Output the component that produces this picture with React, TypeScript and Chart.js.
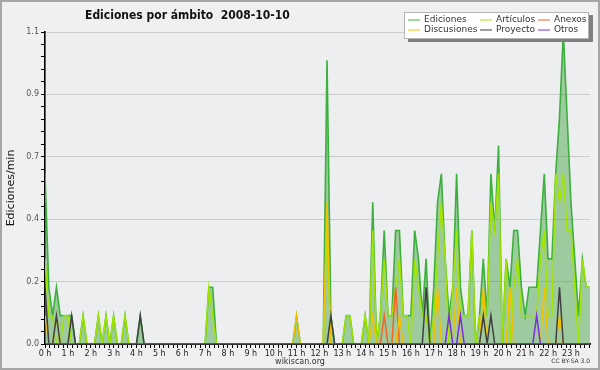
import { useEffect, useRef } from "react";
import { Chart, registerables } from "chart.js";

Chart.register(...registerables);

const TITLE = "Ediciones por ámbito  2008-10-10";
const Y_TITLE = "Ediciones/min";
const FOOTER = "wikiscan.org";
const LICENSE = "CC BY-SA 3.0";

const HOUR_LABELS = [
  "0 h", "1 h", "2 h", "3 h", "4 h", "5 h", "6 h", "7 h", "8 h", "9 h", "10 h", "11 h",
  "12 h", "13 h", "14 h", "15 h", "16 h", "17 h", "18 h", "19 h", "20 h", "21 h", "22 h", "23 h",
];
const Y_TICK_LABELS = ["0.0", "0.2", "0.4", "0.7", "0.9", "1.1"];
const Y_MAX = 1.1;

const SERIES_NAMES = ["Ediciones", "Artículos", "Anexos", "Discusiones", "Proyecto", "Otros"];
const SERIES_COLORS = ["#3cb03c", "#a2e400", "#f26522", "#f2c200", "#404040", "#7a2ee0"];

// 10-minute samples, 6 per hour
const ediciones = [
  0.6, 0.2, 0.1, 0.2, 0.1, 0.1,
  0.1, 0.1, 0, 0, 0.1, 0,
  0, 0, 0.1, 0, 0.1, 0,
  0.1, 0, 0, 0.1, 0, 0,
  0, 0.1, 0, 0, 0, 0,
  0, 0, 0, 0, 0, 0,
  0, 0, 0, 0, 0, 0,
  0, 0.2, 0.2, 0, 0, 0,
  0, 0, 0, 0, 0, 0,
  0, 0, 0, 0, 0, 0,
  0, 0, 0, 0, 0, 0,
  0.1, 0, 0, 0, 0, 0,
  0, 0, 1.0, 0.1, 0, 0,
  0, 0.1, 0.1, 0, 0, 0,
  0.1, 0, 0.5, 0, 0.1, 0.4,
  0.1, 0.1, 0.4, 0.4, 0.1, 0.1,
  0.1, 0.4, 0.3, 0.1, 0.3, 0,
  0.2, 0.5, 0.6, 0.3, 0.1, 0.2,
  0.6, 0.2, 0.1, 0.1, 0.4, 0,
  0.1, 0.3, 0.1, 0.6, 0.4, 0.7,
  0, 0.3, 0.2, 0.4, 0.4, 0.2,
  0.1, 0.2, 0.2, 0.2, 0.4, 0.6,
  0.3, 0.3, 0.6, 0.8, 1.1, 0.8,
  0.5, 0.3, 0.1, 0.3, 0.2, 0.2,
];
const articulos = [
  0.3, 0.1, 0.1, 0, 0, 0.1,
  0.1, 0, 0, 0, 0.1, 0,
  0, 0, 0.1, 0, 0.1, 0,
  0.1, 0, 0, 0.1, 0, 0,
  0, 0, 0, 0, 0, 0,
  0, 0, 0, 0, 0, 0,
  0, 0, 0, 0, 0, 0,
  0, 0.2, 0.1, 0, 0, 0,
  0, 0, 0, 0, 0, 0,
  0, 0, 0, 0, 0, 0,
  0, 0, 0, 0, 0, 0,
  0, 0, 0, 0, 0, 0,
  0, 0, 0.4, 0, 0, 0,
  0, 0.1, 0.1, 0, 0, 0,
  0.1, 0, 0.4, 0, 0.1, 0.3,
  0.1, 0.1, 0.2, 0.3, 0.1, 0.1,
  0, 0.3, 0.2, 0.1, 0.1, 0,
  0.1, 0.3, 0.5, 0.3, 0, 0.2,
  0.4, 0.1, 0.1, 0.1, 0.4, 0,
  0.1, 0.1, 0.1, 0.5, 0.4, 0.6,
  0, 0.3, 0, 0.2, 0.3, 0.1,
  0.1, 0.1, 0.1, 0.1, 0.3, 0.4,
  0.1, 0.1, 0.6, 0.5, 0.6, 0.4,
  0.4, 0.2, 0, 0.3, 0.2, 0.2,
];
const anexos = [
  0, 0, 0, 0, 0, 0, 0, 0, 0, 0, 0, 0, 0, 0, 0, 0, 0, 0, 0, 0, 0, 0, 0, 0,
  0, 0, 0, 0, 0, 0, 0, 0, 0, 0, 0, 0, 0, 0, 0, 0, 0, 0, 0, 0, 0, 0, 0, 0,
  0, 0, 0, 0, 0, 0, 0, 0, 0, 0, 0, 0, 0, 0, 0, 0, 0, 0, 0, 0, 0, 0, 0, 0,
  0, 0, 0, 0, 0, 0, 0, 0, 0, 0, 0, 0, 0, 0, 0, 0, 0, 0.1, 0, 0, 0.2, 0, 0, 0,
  0, 0, 0, 0, 0, 0, 0, 0, 0, 0, 0, 0, 0, 0, 0, 0, 0, 0, 0, 0, 0, 0, 0, 0,
  0, 0, 0, 0, 0, 0, 0, 0, 0, 0, 0, 0, 0, 0, 0, 0, 0, 0, 0, 0, 0, 0, 0, 0,
];
const discusiones = [
  0.1, 0, 0, 0.1, 0, 0, 0, 0, 0, 0, 0, 0, 0, 0, 0, 0, 0, 0, 0, 0, 0, 0, 0, 0,
  0, 0, 0, 0, 0, 0, 0, 0, 0, 0, 0, 0, 0, 0, 0, 0, 0, 0, 0, 0, 0, 0, 0, 0,
  0, 0, 0, 0, 0, 0, 0, 0, 0, 0, 0, 0, 0, 0, 0, 0, 0, 0, 0.1, 0, 0, 0, 0, 0,
  0, 0, 0.5, 0, 0, 0, 0, 0, 0, 0, 0, 0, 0, 0, 0.1, 0, 0, 0, 0, 0, 0, 0.1, 0, 0,
  0, 0, 0, 0, 0, 0, 0, 0.2, 0, 0, 0, 0, 0.2, 0, 0, 0, 0, 0, 0, 0.2, 0, 0, 0, 0,
  0, 0, 0.2, 0, 0, 0, 0, 0, 0, 0, 0, 0.2, 0, 0, 0, 0.1, 0, 0, 0, 0, 0, 0, 0, 0,
];
const proyecto = [
  0.2, 0, 0, 0.1, 0, 0, 0, 0.1, 0, 0, 0, 0, 0, 0, 0, 0, 0, 0, 0, 0, 0, 0, 0, 0,
  0, 0.1, 0, 0, 0, 0, 0, 0, 0, 0, 0, 0, 0, 0, 0, 0, 0, 0, 0, 0, 0, 0, 0, 0,
  0, 0, 0, 0, 0, 0, 0, 0, 0, 0, 0, 0, 0, 0, 0, 0, 0, 0, 0, 0, 0, 0, 0, 0,
  0, 0, 0, 0.1, 0, 0, 0, 0, 0, 0, 0, 0, 0, 0, 0, 0, 0, 0, 0, 0, 0, 0, 0, 0,
  0, 0, 0, 0, 0.2, 0, 0, 0, 0, 0, 0, 0, 0, 0, 0, 0, 0, 0, 0, 0.1, 0, 0.1, 0, 0,
  0, 0, 0, 0, 0, 0, 0, 0, 0, 0, 0, 0, 0, 0, 0, 0.2, 0, 0, 0, 0, 0, 0, 0, 0,
];
const otros = [
  0, 0, 0, 0, 0, 0, 0, 0, 0, 0, 0, 0, 0, 0, 0, 0, 0, 0, 0, 0, 0, 0, 0, 0,
  0, 0, 0, 0, 0, 0, 0, 0, 0, 0, 0, 0, 0, 0, 0, 0, 0, 0, 0, 0, 0, 0, 0, 0,
  0, 0, 0, 0, 0, 0, 0, 0, 0, 0, 0, 0, 0, 0, 0, 0, 0, 0, 0, 0, 0, 0, 0, 0,
  0, 0, 0, 0, 0, 0, 0, 0, 0, 0, 0, 0, 0, 0, 0, 0, 0, 0, 0, 0, 0, 0, 0, 0,
  0, 0, 0, 0, 0, 0, 0, 0, 0, 0, 0.1, 0, 0, 0.1, 0, 0, 0, 0, 0, 0, 0, 0, 0, 0,
  0, 0, 0, 0, 0, 0, 0, 0, 0, 0.1, 0, 0, 0, 0, 0, 0, 0, 0, 0, 0, 0, 0, 0, 0,
];

const SERIES = [ediciones, articulos, anexos, discusiones, proyecto, otros];
const FONT = "'DejaVu Sans', sans-serif";
const FONT_COND = "'DejaVu Sans Condensed', 'DejaVu Sans', sans-serif";
const SAMPLES_PER_HOUR = 6;
const MINOR_PER_HOUR = 5;

const decor = {
  id: "decor",
  beforeDraw(chart: any) {
    const { ctx, chartArea: a } = chart;
    ctx.save();
    ctx.fillStyle = "#f0f0f0";
    ctx.fillRect(0, 0, chart.width, chart.height);
    ctx.fillStyle = "#edeef0";
    ctx.fillRect(a.left, a.top, a.right - a.left, a.bottom - a.top);
    ctx.restore();
  },
  afterDraw(chart: any) {
    const { ctx } = chart;
    ctx.save();
    ctx.strokeStyle = "#a6a6a6";
    ctx.lineWidth = 2;
    ctx.strokeRect(1, 1, chart.width - 2, chart.height - 2);
    ctx.fillStyle = "#111";
    ctx.font = `bold 12px ${FONT_COND}`;
    ctx.textAlign = "left";
    ctx.textBaseline = "alphabetic";
    ctx.fillText(TITLE, 85, 19);
    ctx.save();
    ctx.translate(14, 188);
    ctx.rotate(-Math.PI / 2);
    ctx.font = `11px ${FONT}`;
    ctx.textAlign = "center";
    ctx.fillText(Y_TITLE, 0, 0);
    ctx.restore();
    ctx.fillStyle = "#7f7f7f";
    ctx.fillRect(408, 15, 185, 27);
    ctx.fillStyle = "#ffffff";
    ctx.fillRect(404, 12, 185, 27);
    ctx.strokeStyle = "#b4b4b4";
    ctx.lineWidth = 1;
    ctx.strokeRect(404.5, 12.5, 184, 26);
    const colX = [[408, 424], [480, 496], [538, 554]];
    const rowY = [19.5, 29.5];
    ctx.font = `9px ${FONT}`;
    ctx.textBaseline = "middle";
    ctx.textAlign = "left";
    SERIES_NAMES.forEach((name, i) => {
      const [lx, tx] = colX[i % 3];
      const y = rowY[Math.floor(i / 3)];
      ctx.strokeStyle = SERIES_COLORS[i];
      ctx.lineWidth = 1;
      ctx.beginPath();
      ctx.moveTo(lx, y + 0.5);
      ctx.lineTo(lx + 12, y + 0.5);
      ctx.stroke();
      ctx.fillStyle = "#333";
      ctx.fillText(name, tx, y);
    });
    ctx.fillStyle = "#333";
    ctx.font = `8px ${FONT}`;
    ctx.textAlign = "center";
    ctx.fillText(FOOTER, 300, 362);
    ctx.font = `6px ${FONT}`;
    ctx.textAlign = "right";
    ctx.fillText(LICENSE, 590, 361);
    ctx.restore();
  },
};

export default function App() {
  const ref = useRef<HTMLCanvasElement | null>(null);
  useEffect(() => {
    document.body.style.margin = "0";
    const canvas = ref.current!;
    const datasets = SERIES.map((vals, i) => ({
      label: SERIES_NAMES[i],
      data: vals.map((v, k) => ({ x: k, y: v })),
      borderColor: SERIES_COLORS[i],
      backgroundColor: i === 0 ? "rgba(60,160,60,0.45)" : SERIES_COLORS[i],
      borderWidth: i === 0 ? 1.6 : 1.5,
      fill: i === 0 ? "origin" : false,
      pointRadius: 0,
      tension: 0,
      order: SERIES.length - i,
    }));
    const chart = new Chart(canvas, {
      type: "line",
      data: { datasets },
      plugins: [decor],
      options: {
        animation: false,
        responsive: false,
        devicePixelRatio: 1,
        layout: { padding: { top: 32, right: 10, left: 0, bottom: 0 } },
        plugins: { legend: { display: false }, title: { display: false }, tooltip: { enabled: false } },
        scales: {
          x: {
            type: "linear",
            min: 0,
            max: ediciones.length - 1,
            afterFit(s: any) { s.height = 26; },
            afterBuildTicks(s: any) {
              const n = HOUR_LABELS.length * MINOR_PER_HOUR;
              s.ticks = Array.from({ length: n }, (_, k) => ({ value: (k * SAMPLES_PER_HOUR) / MINOR_PER_HOUR }));
            },
            border: { display: true, color: "#000", width: 1.8 },
            grid: { drawOnChartArea: false, drawTicks: true, tickLength: 4, tickColor: "#000", tickWidth: 1 },
            ticks: {
              autoSkip: false, maxRotation: 0, minRotation: 0, padding: 1, color: "#222",
              font: { family: FONT, size: 8 },
              callback: (_v: any, i: number) => (i % MINOR_PER_HOUR === 0 ? HOUR_LABELS[i / MINOR_PER_HOUR] ?? "" : ""),
            },
          },
          y: {
            min: 0,
            max: Y_MAX,
            afterFit(s: any) { s.width = 45; },
            afterBuildTicks(s: any) {
              s.ticks = Array.from({ length: 26 }, (_, k) => ({ value: (k * Y_MAX) / 25 }));
            },
            border: { display: true, color: "#000", width: 1.6 },
            grid: {
              color: (c: any) => (c.index % 5 === 0 ? "#cbcbcb" : "rgba(0,0,0,0)"),
              lineWidth: 1,
              drawTicks: true,
              tickLength: 4,
              tickColor: "#000",
            },
            ticks: {
              autoSkip: false, padding: 2, color: "#555",
              font: { family: FONT, size: 8 },
              callback: (_v: any, i: number) => (i % 5 === 0 ? Y_TICK_LABELS[i / 5] : ""),
            },
          },
        },
      },
    });
    return () => chart.destroy();
  }, []);
  return <canvas ref={ref} width={600} height={370} style={{ display: "block", width: 600, height: 370 }} />;
}
